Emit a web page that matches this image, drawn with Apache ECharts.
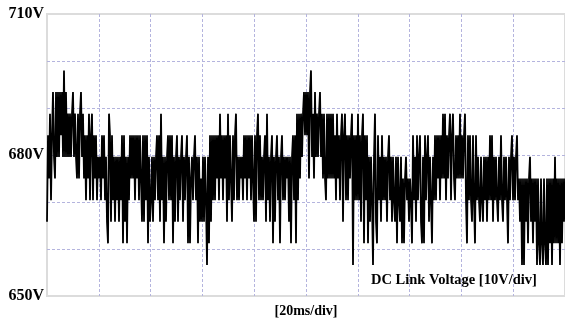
<!DOCTYPE html>
<html>

<head>
	<meta charset="UTF-8">
	<title>DC Link Voltage</title>
	<script src="https://cdn.jsdelivr.net/npm/echarts@6/dist/echarts.min.js"></script>
	<style>
		html, body { margin: 0; padding: 0; background: #fff; }
		#chart { width: 565px; height: 323px; }
	</style>
</head>

<body>
	<div id="chart"></div>
	<script type="text/javascript">
		// quantised voltage levels seen on the scope trace (V)
		var levels = [656.6, 661.2, 665.8, 670.4, 675.0, 679.6, 684.2, 688.8, 693.4, 698.0];

		// level index of each sample, one string per 20ms division
		var seg0 = '2647368548' + '5858685958' + '5757578575' + '4747857463' + '6473673646' + '35';
		var seg1 = '4536463521' + '7626352535' + '2536162515' + '3646463646' + '3642626361' + '52';
		var seg2 = '3525356362' + '7351525636' + '3615256253' + '5625356151' + '4535635152' + '42';
		var seg3 = '5253051626' + '3636463746' + '3646273642' + '6367353545' + '3646364636' + '42';
		var seg4 = '6267363535' + '6273525615' + '2563515635' + '3545251563' + '6173747578' + '68';
		var seg5 = '6848957485' + '7578574743' + '7474747463' + '7463672673' + '6364670636' + '37';
		var seg6 = '3626716361' + '5253057216' + '3526353525' + '6352532515' + '3251414534' + '24';
		var seg7 = '3163526356' + '2151635625' + '3153636463' + '6474736467' + '3674364647' + '46';
		var seg8 = '4673163632' + '6316353253' + '2535253636' + '2535325363' + '2535315356' + '35';
		var seg9 = '3563424040' + '4241452414' + '2404104104' + '1040414041' + '5141404142' + '4';

		var timeSpan = 200; // ms, 10 div x 20ms
		var yLabels = [650, 680, 710];

		var codes = [seg0, seg1, seg2, seg3, seg4, seg5, seg6, seg7, seg8, seg9].join('');
		var trace = [];
		for (var i = 0; i < codes.length; i++) {
			trace.push([i * timeSpan / (codes.length - 1), levels[+codes.charAt(i)]]);
		}

		var font = 'Liberation Serif, Times New Roman, serif';
		var gridLine = {
			show: true,
			showMinLine: false,
			showMaxLine: false,
			lineStyle: { color: '#b4b4de', type: [3, 2], width: 1 }
		};

		var myChart = echarts.init(document.getElementById('chart'));
		var option = {
			animation: false,
			title: {
				text: 'DC Link Voltage [10V/div]',
				left: 371,
				top: 273,
				padding: 0,
				textStyle: { fontFamily: font, fontWeight: 'bold', fontSize: 14.5, color: '#000' }
			},
			grid: {
				left: 47,
				right: -1,
				top: 14,
				bottom: 26,
				show: true,
				borderColor: '#dcdcdc',
				borderWidth: 2
			},
			xAxis: {
				type: 'value',
				min: 0,
				max: timeSpan,
				interval: 20,
				name: '[20ms/div]',
				nameLocation: 'middle',
				nameGap: 8,
				nameTextStyle: { fontFamily: font, fontWeight: 'bold', fontSize: 14, color: '#000' },
				axisLine: { show: false },
				axisTick: { show: false },
				axisLabel: { show: false },
				splitLine: gridLine
			},
			yAxis: {
				type: 'value',
				min: 650,
				max: 710,
				interval: 10,
				axisLine: { show: false },
				axisTick: { show: false },
				axisLabel: {
					margin: 3,
					fontFamily: font,
					fontWeight: 'bold',
					fontSize: 16,
					color: '#000',
					formatter: function (v) {
						return yLabels.indexOf(v) >= 0 ? v + 'V' : '';
					}
				},
				splitLine: gridLine
			},
			series: [{
				type: 'line',
				data: trace,
				symbol: 'none',
				lineStyle: { color: '#000', width: 1.8 }
			}]
		};
		myChart.setOption(option);
	</script>
</body>

</html>
